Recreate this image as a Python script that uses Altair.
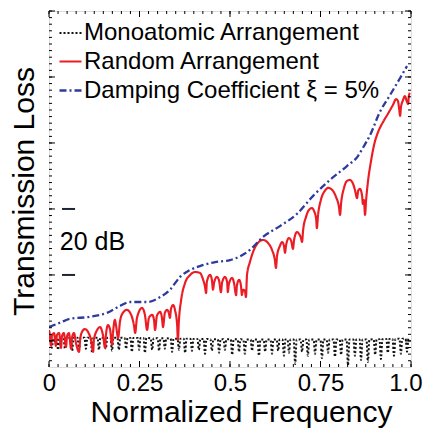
import altair as alt
import pandas as pd

names = ["Monoatomic Arrangement", "Random Arrangement", "Damping Coefficient ξ = 5%"]
colors = ["#111111", "#ec1c24", "#2e3b9e"]
dashes = [[2, 2], [1, 0], [7, 3, 2, 3]]
widths = [2, 2.3, 2.5]

# (normalized frequency, transmission loss in dB)
mono_pts = [
    (0.000, 3.0),
    (0.004, 1.0), (0.008, -2.1), (0.012, 1.0),
    (0.021, 1.0), (0.025, -2.7), (0.029, 1.0),
    (0.040, 1.0), (0.044, -2.4), (0.048, 1.0),
    (0.060, 1.0), (0.064, -3.0), (0.068, 1.0),
    (0.079, 1.0), (0.083, -2.7), (0.087, 1.0),
    (0.098, 1.0), (0.102, -2.4), (0.106, 1.0),
    (0.115, 1.0), (0.119, -3.6), (0.123, 1.0),
    (0.134, 1.0), (0.138, -2.7), (0.142, 1.0),
    (0.153, 1.0), (0.157, -2.4), (0.161, 1.0),
    (0.170, 1.0), (0.174, -3.0), (0.178, 1.0),
    (0.189, 1.0), (0.193, -2.7), (0.197, 1.0),
    (0.209, 0.9), (0.213, -2.4), (0.217, 0.9),
    (0.225, 0.9), (0.229, -3.3), (0.233, 0.9),
    (0.245, 0.9), (0.249, -2.7), (0.253, 0.9),
    (0.261, 0.9), (0.265, -3.6), (0.269, 0.9),
    (0.281, 0.8), (0.285, -2.7), (0.289, 0.8),
    (0.300, 0.8), (0.304, -3.0), (0.308, 0.8),
    (0.316, 0.8), (0.320, -2.4), (0.324, 0.8),
    (0.336, 0.7), (0.340, -3.3), (0.344, 0.7),
    (0.355, 0.7), (0.359, -2.7), (0.363, 0.7),
    (0.372, 0.7), (0.376, -3.6), (0.380, 0.7),
    (0.391, 0.6), (0.395, -3.0), (0.399, 0.6),
    (0.410, 0.6), (0.414, -2.7), (0.418, 0.6),
    (0.427, 0.6), (0.431, -3.9), (0.435, 0.6),
    (0.446, 0.5), (0.450, -3.0), (0.454, 0.5),
    (0.466, 0.5), (0.470, -3.6), (0.474, 0.5),
    (0.482, 0.5), (0.486, -2.7), (0.490, 0.5),
    (0.502, 0.5), (0.506, -4.2), (0.510, 0.5),
    (0.521, 0.5), (0.525, -3.3), (0.529, 0.5),
    (0.537, 0.4), (0.541, -3.9), (0.545, 0.4),
    (0.557, 0.4), (0.561, -3.0), (0.565, 0.4),
    (0.576, 0.4), (0.580, -4.5), (0.584, 0.4),
    (0.593, 0.4), (0.597, -3.3), (0.601, 0.4),
    (0.612, 0.4), (0.616, -3.9), (0.620, 0.4),
    (0.629, 0.4), (0.633, -3.0), (0.637, 0.4),
    (0.645, 0.4), (0.649, -4.5), (0.653, 0.4),
    (0.659, 0.4), (0.663, -3.6), (0.667, 0.4),
    (0.676, 0.4), (0.680, -7.0), (0.684, 0.4),
    (0.695, 0.4), (0.699, -3.3), (0.703, 0.4),
    (0.711, 0.4), (0.715, -4.5), (0.719, 0.4),
    (0.731, 0.4), (0.735, -3.9), (0.739, 0.4),
    (0.750, 0.4), (0.754, -5.2), (0.758, 0.4),
    (0.767, 0.4), (0.771, -3.6), (0.775, 0.4),
    (0.786, 0.4), (0.790, -4.8), (0.794, 0.4),
    (0.803, 0.4), (0.807, -4.2), (0.811, 0.4),
    (0.822, 0.4), (0.826, -7.3), (0.830, 0.4),
    (0.841, 0.4), (0.845, -4.5), (0.849, 0.4),
    (0.858, 0.4), (0.862, -5.8), (0.866, 0.4),
    (0.877, 0.4), (0.881, -6.4), (0.885, 0.4),
    (0.897, 0.5), (0.901, -4.2), (0.905, 0.5),
    (0.913, 0.5), (0.917, -5.5), (0.921, 0.5),
    (0.932, 0.6), (0.936, -3.6), (0.940, 0.6),
    (0.949, 0.6), (0.953, -4.5), (0.957, 0.6),
    (0.968, 0.7), (0.972, -3.9), (0.976, 0.7),
    (0.985, 0.7), (0.989, -3.3), (0.993, 0.7),
    (0.997, 0.8),
]

red_pts = [
    (0.000, 3.3), (0.003, 0.9), (0.006, -1.5), (0.008, 1.5), (0.014, 2.4),
    (0.019, -1.5), (0.022, 1.8), (0.028, 2.4), (0.033, -2.1), (0.036, 1.5),
    (0.041, 2.4), (0.047, -1.8), (0.050, 1.5), (0.055, 2.4), (0.061, -2.4),
    (0.064, 1.2), (0.069, 2.4), (0.075, -0.9), (0.083, -3.3), (0.086, 0.3),
    (0.091, 2.7), (0.099, 3.6), (0.108, 2.7), (0.116, 0.3), (0.122, -3.3),
    (0.124, 0.3), (0.133, 3.3), (0.141, 4.2), (0.149, 1.8), (0.155, -2.1),
    (0.157, 1.5), (0.163, 4.8), (0.169, 3.3), (0.174, -1.2), (0.177, 2.7),
    (0.182, 6.4), (0.185, 4.8), (0.191, 0.9), (0.196, 5.8), (0.204, 8.5),
    (0.215, 9.4), (0.227, 7.9), (0.235, 4.5), (0.238, 2.4), (0.243, 7.0),
    (0.257, 10.0), (0.265, 7.9), (0.271, 3.3), (0.276, 7.0), (0.285, 7.9),
    (0.290, 6.4), (0.293, 3.3), (0.298, 7.6), (0.307, 8.8), (0.312, 7.0),
    (0.315, 4.2), (0.320, 8.5), (0.326, 9.4), (0.331, 8.5), (0.334, 7.0),
    (0.337, 9.7), (0.343, 10.9), (0.348, 9.4), (0.354, 4.8), (0.356, 0.3),
    (0.359, 6.4), (0.365, 12.4), (0.376, 17.6), (0.390, 20.0), (0.403, 20.9),
    (0.417, 20.6), (0.425, 18.8), (0.431, 16.4), (0.434, 14.5), (0.436, 17.9),
    (0.445, 20.0), (0.450, 18.5), (0.453, 15.5), (0.456, 17.6), (0.464, 19.4),
    (0.470, 18.2), (0.475, 14.8), (0.478, 17.6), (0.486, 19.4), (0.492, 17.9),
    (0.494, 14.8), (0.497, 17.3), (0.506, 19.1), (0.511, 17.6), (0.517, 13.9),
    (0.519, 16.7), (0.525, 18.5), (0.530, 17.0), (0.533, 13.9), (0.536, 15.5),
    (0.541, 15.2), (0.544, 13.3), (0.547, 20.0), (0.555, 23.9), (0.566, 27.6),
    (0.577, 29.7), (0.591, 30.6), (0.605, 29.7), (0.616, 27.6), (0.624, 24.5),
    (0.627, 22.1), (0.630, 25.8), (0.638, 28.8), (0.644, 30.0), (0.649, 28.8),
    (0.652, 26.7), (0.655, 29.1), (0.663, 31.2), (0.669, 30.3), (0.674, 27.9),
    (0.677, 30.6), (0.685, 33.0), (0.691, 32.4), (0.696, 31.2), (0.699, 30.0),
    (0.702, 33.6), (0.710, 37.6), (0.718, 39.7), (0.727, 40.3), (0.732, 39.4),
    (0.738, 37.0), (0.740, 34.2), (0.743, 37.9), (0.751, 42.7), (0.762, 45.5),
    (0.771, 46.4), (0.782, 45.8), (0.793, 43.6), (0.801, 40.6), (0.804, 38.2),
    (0.807, 41.8), (0.815, 46.4), (0.823, 48.5), (0.831, 48.8), (0.840, 47.6),
    (0.845, 45.8), (0.851, 43.3), (0.854, 45.5), (0.859, 46.1), (0.865, 43.9),
    (0.867, 41.5), (0.870, 42.7), (0.873, 38.2), (0.876, 42.7), (0.881, 48.2),
    (0.890, 54.8), (0.898, 59.4), (0.909, 63.3), (0.923, 66.4), (0.936, 68.8),
    (0.950, 71.5), (0.959, 73.3), (0.964, 72.7), (0.967, 70.6), (0.970, 68.2),
    (0.972, 70.6), (0.978, 73.0), (0.983, 74.2), (0.989, 72.4), (0.992, 71.8),
    (0.994, 74.2), (0.997, 75.2),
]

blue_pts = [
    (0.000, 4.2), (0.030, 5.5), (0.058, 6.7), (0.113, 7.3), (0.160, 8.5),
    (0.196, 10.6), (0.224, 11.8), (0.271, 11.8), (0.307, 13.3), (0.334, 15.5),
    (0.362, 19.4), (0.390, 21.5), (0.417, 22.7), (0.459, 23.9), (0.500, 24.5),
    (0.555, 27.6), (0.591, 31.5), (0.638, 34.8), (0.685, 38.5), (0.729, 43.9),
    (0.776, 48.8), (0.823, 53.0), (0.854, 56.1), (0.867, 58.5), (0.887, 62.4),
    (0.914, 69.4), (0.942, 74.5), (0.970, 79.7), (0.989, 83.3),
]

x_major = [0, 0.25, 0.5, 0.75, 1.0]
x_minor = [i / 40 for i in range(41)]
y_major = [0, 20, 40, 60, 80, 100]
y_minor = list(range(-6, 101, 2))

scale_bar_db = [20, 40]
scale_bar_f = (0.036, 0.072)
scale_text = ("20 dB", 0.030, 30)

rows = []
for name, pts in zip(names, [mono_pts, red_pts, blue_pts]):
    for i, (f, db) in enumerate(pts):
        rows.append({"series": name, "f": f, "db": db, "i": i})
df = pd.DataFrame(rows)

FONT = "Liberation Sans"
W, H = 362, 356
xs = alt.Scale(domain=[0, 1], nice=False, zero=False)
ys = alt.Scale(domain=[-7.9, 100], nice=False, zero=False)
XT = "Normalized Frequency"
YT = "Transmission Loss"

legend = alt.Legend(
    title=None, orient="none", legendX=9, legendY=10, symbolType="stroke",
    symbolSize=484, symbolStrokeWidth=2, labelFontSize=24, labelOffset=1,
    rowPadding=4, padding=0, labelLimit=400, labelColor="black", labelFont=FONT,
)

lines = alt.Chart(df).mark_line(interpolate="monotone", clip=True).encode(
    x=alt.X("f:Q", scale=xs, title=XT, axis=alt.Axis(
        values=x_major, title=XT, ticks=False, tickSize=0,
        domain=False, grid=False, labelFlush=False,
        labelExpr="datum.value == 1 ? '1.0' : format(datum.value, '~g')",
        labelAlign=alt.expr("datum.value == 1 ? 'right' : 'center'"),
        labelOffset=alt.expr("datum.value == 1 ? 11 : 0"),
        labelFontSize=24, labelPadding=4, labelColor="black", labelFont=FONT,
        titleFontSize=30, titlePadding=2, titleX=192, titleFontWeight="normal",
        titleColor="black", titleFont=FONT)),
    y=alt.Y("db:Q", scale=ys, title=YT, axis=alt.Axis(
        title=YT, labels=False, ticks=False, tickSize=0,
        domain=False, grid=False, titleFontSize=30, titlePadding=10, titleY=180,
        titleFontWeight="normal", titleColor="black", titleFont=FONT)),
    color=alt.Color("series:N", scale=alt.Scale(domain=names, range=colors), legend=legend),
    strokeDash=alt.StrokeDash("series:N", scale=alt.Scale(domain=names, range=dashes), legend=legend),
    strokeWidth=alt.StrokeWidth("series:N", scale=alt.Scale(domain=names, range=widths), legend=None),
    order="i:Q",
)

def ytick(vals, x0, x1):
    return alt.Chart(pd.DataFrame({"db": vals})).mark_rule(color="black", strokeWidth=1).encode(
        y=alt.Y("db:Q", scale=ys, title=YT), x=alt.value(x0), x2=alt.value(x1))

def xtick(vals, y0, y1):
    return alt.Chart(pd.DataFrame({"f": vals})).mark_rule(color="black", strokeWidth=1).encode(
        x=alt.X("f:Q", scale=xs, title=XT), y=alt.value(y0), y2=alt.value(y1))

ticks = [
    ytick(y_minor, 0, 3), ytick(y_major, 0, 6),
    ytick(y_minor, W, W - 3), ytick(y_major, W, W - 6),
    xtick(x_minor, H, H - 3), xtick(x_major, H, H - 6),
    xtick(x_minor, 0, 3), xtick(x_major, 0, 6),
]

bar_df = pd.DataFrame({"db": scale_bar_db, "f": scale_bar_f[0], "f2": scale_bar_f[1]})
bars = alt.Chart(bar_df).mark_rule(color="#1c2533", strokeWidth=2).encode(
    x=alt.X("f:Q", scale=xs, title=XT), x2="f2:Q", y=alt.Y("db:Q", scale=ys, title=YT))

txt_df = pd.DataFrame({"t": [scale_text[0]], "f": [scale_text[1]], "db": [scale_text[2]]})
txt = alt.Chart(txt_df).mark_text(align="left", baseline="middle", fontSize=25, font=FONT, color="black").encode(
    x=alt.X("f:Q", scale=xs, title=XT), y=alt.Y("db:Q", scale=ys, title=YT), text="t:N")

chart = alt.layer(lines, *ticks, bars, txt).properties(
    width=W, height=H,
    autosize=alt.AutoSizeParams(type="none"),
    padding={"left": 41, "top": 3, "right": 11, "bottom": 62},
).configure_view(stroke="black", strokeWidth=1.5).configure(font=FONT)

chart.save("out.html", embed_options={"renderer": "svg", "actions": False})
